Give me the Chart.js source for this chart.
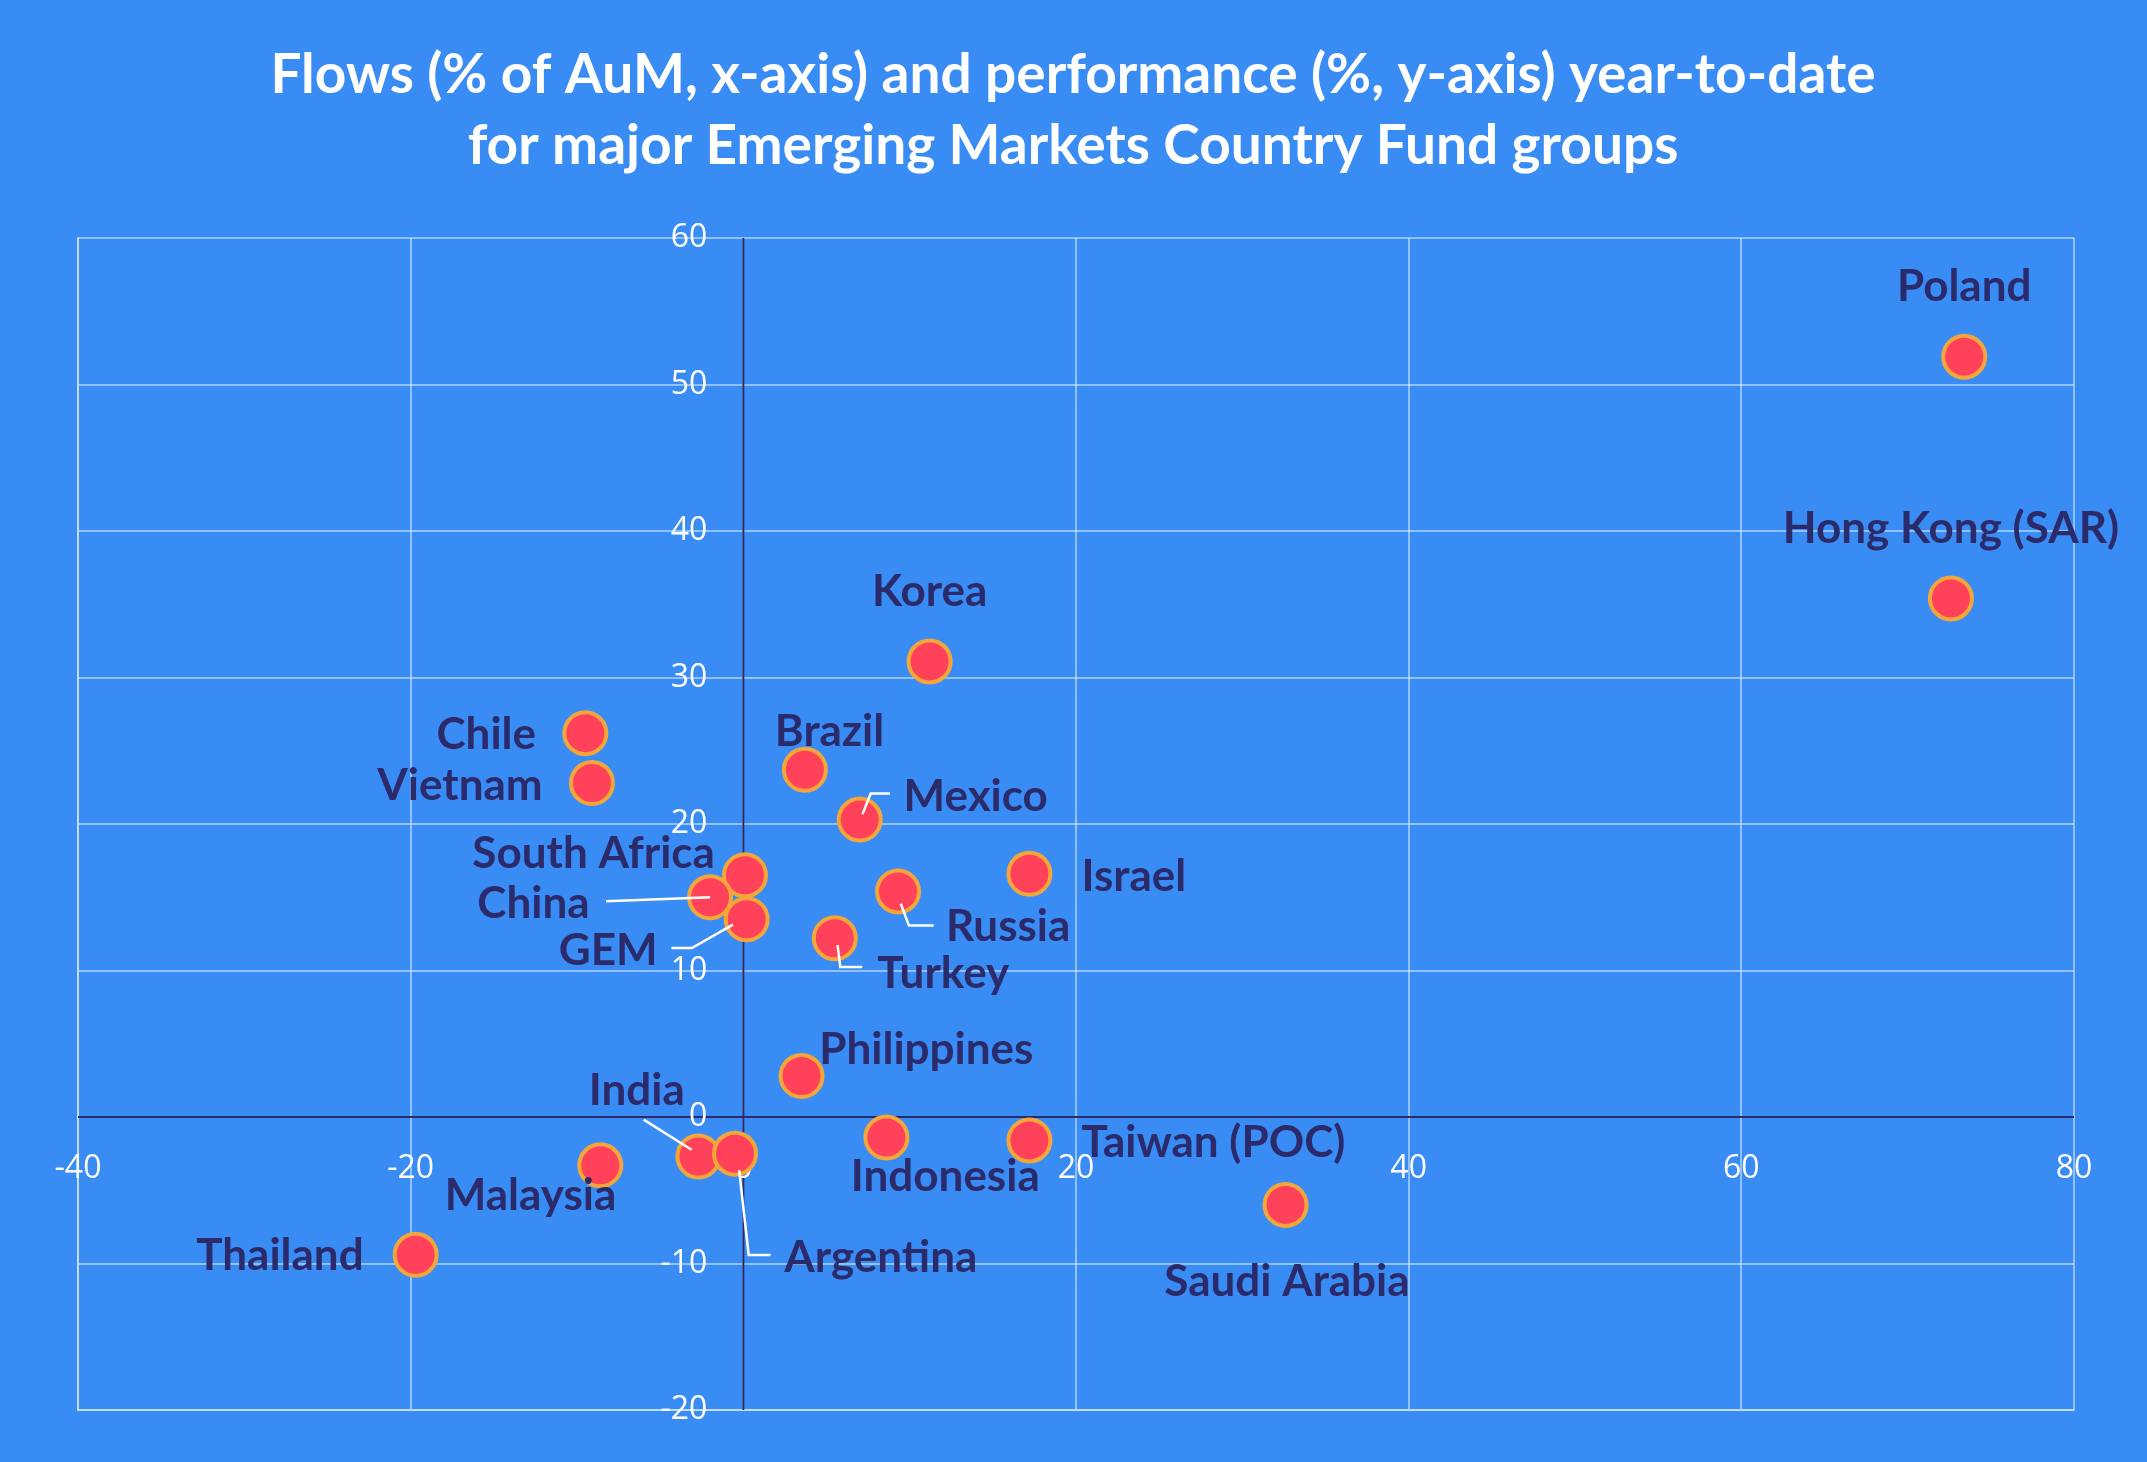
<!DOCTYPE html>
<html><head><meta charset="utf-8">
<script src="https://cdn.jsdelivr.net/npm/chart.js@4.4.1/dist/chart.umd.min.js"></script>
<style>html,body{margin:0;padding:0;background:#3a8cf5}#wrap{width:2147px;height:1462px}</style>
</head><body><div id="wrap"><canvas id="c"></canvas></div>
<script>
// data
const countries = ["Poland","Hong Kong (SAR)","Korea","Chile","Vietnam","Brazil","Mexico","South Africa","China","GEM","Russia","Israel","Turkey","Philippines","India","Argentina","Malaysia","Thailand","Indonesia","Taiwan (POC)","Saudi Arabia"];
const flows = [73.4,72.6,11.2,-9.5,-9.1,3.7,7.0,0.1,-2.0,0.2,9.3,17.2,5.5,3.5,-2.7,-0.5,-8.6,-19.7,8.6,17.2,32.6];
const performance = [51.9,35.4,31.1,26.2,22.8,23.7,20.3,16.5,15.0,13.5,15.4,16.6,12.2,2.8,-2.7,-2.5,-3.3,-9.4,-1.4,-1.6,-6.0];
const xTicks = [-40,-20,0,20,40,60,80];
const yTicks = [-20,-10,0,10,20,30,40,50,60];

const S = 1.369;
// label placement relative to point (reference px): [dx, dy, align, leader path]
const labelPos = {
  "Poland":[0,-51,"center"], "Hong Kong (SAR)":[0,-51,"center"], "Korea":[0,-51,"center"],
  "Chile":[-36,1,"right"], "Vietnam":[-36,2,"right"], "Brazil":[18,-28,"center"],
  "Mexico":[32,-17,"left",[[2,-4],[8,-19],[22,-19]]],
  "South Africa":[-22,-16,"right"],
  "China":[-88,5,"right",[[0,0],[-76,3]]],
  "GEM":[-65,23,"right",[[-10,4],[-40,21],[-55,21]]],
  "Russia":[35,26,"left",[[2,9],[8,25],[26,25]]],
  "Israel":[38,2,"left"],
  "Turkey":[31,26,"left",[[2,5],[4,21],[20,21]]],
  "Philippines":[13,-19,"left"],
  "India":[-45,-48,"center",[[-5,-5],[-40,-27]]],
  "Argentina":[36,76,"left",[[3,12],[10,74],[26,74]]],
  "Malaysia":[-51,22,"center"], "Thailand":[-38,1,"right"],
  "Indonesia":[43,29,"center"], "Taiwan (POC)":[38,2,"left"], "Saudi Arabia":[1,56,"center"]
};

const overlay = {
  id:"overlay",
  beforeDraw(chart){
    const c = chart.ctx;
    c.save(); c.fillStyle="#3a8cf5"; c.fillRect(0,0,chart.width,chart.height);
    c.fillStyle="#fff"; c.font="bold 55px Lato, 'Open Sans', sans-serif"; c.textAlign="center"; c.textBaseline="middle";
    c.fillText("Flows (% of AuM, x-axis) and performance (%, y-axis) year-to-date",1073,75);
    c.fillText("for major Emerging Markets Country Fund groups",1073,146);
    c.restore();
  },
  beforeDatasetsDraw(chart){
    const c = chart.ctx, xs = chart.scales.x, ys = chart.scales.y, a = chart.chartArea;
    const x0 = xs.getPixelForValue(0), y0 = ys.getPixelForValue(0);
    c.save();
    c.strokeStyle="#2b2a6b"; c.lineWidth=2;
    c.beginPath(); c.moveTo(a.left,y0); c.lineTo(a.right,y0); c.moveTo(x0,a.top); c.lineTo(x0,a.bottom); c.stroke();
    c.fillStyle="#fff"; c.font="32px 'Open Sans', sans-serif";
    c.textAlign="center"; c.textBaseline="top";
    xTicks.forEach(v=>c.fillText(String(v),xs.getPixelForValue(v),y0+36));
    c.textAlign="right"; c.textBaseline="middle";
    yTicks.forEach(v=>c.fillText(String(v),x0-36,ys.getPixelForValue(v)));
    c.restore();
  },
  afterDatasetsDraw(chart){
    const c = chart.ctx, meta = chart.getDatasetMeta(0);
    c.save();
    c.font="bold 44px Lato, 'Open Sans', sans-serif"; c.textBaseline="middle";
    countries.forEach((name,i)=>{
      const p = meta.data[i], L = labelPos[name];
      if (L[3]) {
        c.strokeStyle="#fff"; c.lineWidth=2.5; c.beginPath();
        L[3].forEach((q,j)=>{ const px=p.x+q[0]*S, py=p.y+q[1]*S; j?c.lineTo(px,py):c.moveTo(px,py); });
        c.stroke();
      }
      c.fillStyle="#2b2a6b"; c.textAlign=L[2];
      c.fillText(name,p.x+L[0]*S,p.y+L[1]*S);
    });
    c.restore();
  }
};

new Chart(document.getElementById("c"),{
  type:"scatter",
  data:{datasets:[{data:flows.map((x,i)=>({x,y:performance[i]})),
    backgroundColor:"#ff4259",borderColor:"#f5a63a",borderWidth:4,pointRadius:21,pointHoverRadius:21}]},
  options:{
    responsive:true,maintainAspectRatio:false,animation:false,
    layout:{padding:{left:78,right:73,top:238,bottom:52}},
    plugins:{legend:{display:false},tooltip:{enabled:false}},
    scales:{
      x:{type:"linear",min:-40,max:80,ticks:{display:false,stepSize:20},
         grid:{color:"rgba(255,255,255,0.45)",lineWidth:2,drawTicks:false},border:{color:"rgba(255,255,255,0.45)",width:2}},
      y:{type:"linear",min:-20,max:60,ticks:{display:false,stepSize:10},
         grid:{color:"rgba(255,255,255,0.45)",lineWidth:2,drawTicks:false},border:{color:"rgba(255,255,255,0.45)",width:2}}
    }
  },
  plugins:[overlay]
});
</script></body></html>
